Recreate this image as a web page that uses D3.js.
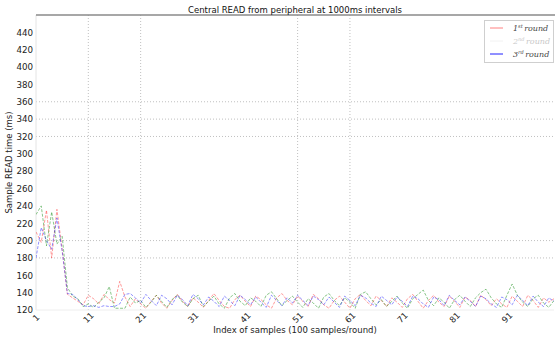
<!DOCTYPE html>
<html><head><meta charset="utf-8">
<script src="https://cdn.jsdelivr.net/npm/d3@7"></script>
<style>
html,body{margin:0;padding:0;background:#fff;}
svg{display:block;font-family:"DejaVu Sans",sans-serif;}
</style></head>
<body><svg id="chart" width="555" height="339"></svg>
<script>
const title = "Central READ from peripheral at 1000ms intervals";
const xLabel = "Index of samples (100 samples/round)";
const yLabel = "Sample READ time (ms)";
const xTicks = [1,11,21,31,41,51,61,71,81,91];
const yTicks = [120,140,160,180,200,220,240,260,280,300,320,340,360,380,400,420,440];
const xGrid = [11,21,51,61];
const yGrid = [180,200,320,340,360];
const seriesNames = ["1st","2nd","3rd"];

const round1 = [210,198,235,180,236,190,138,134,130,126,
  137,133,127,138,132,128,153,135,124,133,
  127,122,130,137,128,122,131,138,130,124,
  134,129,123,131,139,131,124,122,132,137,
  130,124,136,132,126,122,134,139,131,126,
  136,130,124,138,133,126,122,131,136,129,
  122,133,138,131,125,136,131,124,134,129,
  123,133,138,130,122,131,137,129,124,136,
  130,123,135,131,124,137,132,125,133,127,
  123,136,130,124,137,131,123,134,129,133];
const round2 = [230,240,194,233,196,205,146,136,133,124,
  127,123,129,134,147,122,122,122,135,128,
  131,123,129,137,130,123,132,137,129,124,
  133,137,124,130,136,127,122,134,139,130,
  125,134,130,124,137,141,133,125,131,136,
  129,123,133,128,122,135,139,131,125,134,
  129,122,138,141,133,126,132,124,130,136,
  128,122,133,138,143,131,125,134,129,122,
  132,137,130,124,134,140,144,134,127,123,
  137,150,137,129,124,133,137,128,123,131];
const round3 = [180,215,200,190,226,188,139,138,132,125,
  124,125,123,125,124,124,127,138,139,134,
  128,138,131,125,137,133,126,137,132,125,
  138,133,126,135,130,124,136,131,125,137,
  132,126,135,129,123,137,131,125,134,128,
  137,131,125,136,132,126,135,129,123,136,
  131,125,137,134,128,124,136,131,126,135,
  130,124,136,133,127,123,135,132,125,137,
  131,126,135,130,124,136,133,127,123,135,
  132,126,137,131,125,136,129,124,134,130];

const svg = d3.select("#chart");
const L = 36, R = 554, T = 15, B = 310;
const x = d3.scaleLinear().domain([1,100]).range([L,R]);
const y = d3.scaleLinear().domain([120,460]).range([B,T]);

// grid
svg.append("g").selectAll("line").data(xGrid).join("line")
  .attr("x1",d=>x(d)).attr("x2",d=>x(d)).attr("y1",T).attr("y2",B)
  .attr("stroke","#b0b0b0").attr("stroke-width",0.8).attr("stroke-dasharray","1,2");
svg.append("g").selectAll("line").data(yGrid).join("line")
  .attr("x1",L).attr("x2",R).attr("y1",d=>y(d)).attr("y2",d=>y(d))
  .attr("stroke","#b0b0b0").attr("stroke-width",0.8).attr("stroke-dasharray","1,2");

// spines
svg.append("line").attr("x1",L).attr("x2",L).attr("y1",T).attr("y2",B).attr("stroke","#e4e4e4").attr("stroke-width",1);
svg.append("line").attr("x1",L).attr("x2",R).attr("y1",B).attr("y2",B).attr("stroke","#eeeeee").attr("stroke-width",1);
svg.append("line").attr("x1",L).attr("x2",555).attr("y1",T).attr("y2",T).attr("stroke","#8a8a8a").attr("stroke-width",1.5);

// axes
const yAxis = d3.axisLeft(y).tickValues(yTicks).tickSize(0).tickPadding(3);
const gy = svg.append("g").attr("transform",`translate(${L},0)`).call(yAxis);
gy.select(".domain").remove();
gy.selectAll("text").attr("font-size","8.7px").attr("fill","#222").attr("font-family","DejaVu Sans");

const xAxis = d3.axisBottom(x).tickValues(xTicks).tickSize(0).tickPadding(0);
const gx = svg.append("g").attr("transform",`translate(0,${B})`).call(xAxis);
gx.select(".domain").remove();
gx.selectAll("text").attr("font-size","8.5px").attr("fill","#222").attr("font-family","DejaVu Sans")
  .attr("text-anchor","middle").attr("dy",null).attr("y",0)
  .attr("transform","translate(0,8) rotate(-45)").attr("dominant-baseline","middle");

// lines
const line = d3.line().x((d,i)=>x(i+1)).y(d=>y(d));
const series = [
  {data:round1,color:"#ff2020",op:0.5},
  {data:round2,color:"#108a10",op:0.55},
  {data:round3,color:"#2020ff",op:0.55}
];
const clip = svg.append("clipPath").attr("id","clip").append("rect").attr("x",L).attr("y",T).attr("width",R-L).attr("height",B-T+2);
svg.append("g").attr("clip-path","url(#clip)").selectAll("path").data(series).join("path")
  .attr("d",d=>line(d.data)).attr("fill","none").attr("stroke",d=>d.color)
  .attr("stroke-opacity",d=>d.op).attr("stroke-width",0.9).attr("stroke-dasharray","3,1.5");

// title & labels
svg.append("text").attr("x",(L+R)/2).attr("y",13).attr("text-anchor","middle")
  .attr("font-size","8.5px").attr("fill","#111").text(title);
svg.append("text").attr("x",(L+R)/2).attr("y",333).attr("text-anchor","middle")
  .attr("font-size","8.5px").attr("fill","#222").text(xLabel);
svg.append("text").attr("transform",`translate(12,${(T+B)/2}) rotate(-90)`).attr("text-anchor","middle")
  .attr("font-size","8.5px").attr("fill","#222").text(yLabel);

// legend
const lg = svg.append("g");
lg.append("rect").attr("x",484.5).attr("y",20.5).attr("width",69).attr("height",42)
  .attr("fill","#fff").attr("stroke","#cfcfcf").attr("stroke-width",1);
const legendItems = [
  {name:seriesNames[0],color:"#ff8080",text:"#444",y:28},
  {name:seriesNames[1],color:"#f2f2f2",text:"#c8c8c8",y:41},
  {name:seriesNames[2],color:"#2020ff",text:"#444",y:54}
];
legendItems.forEach(it=>{
  lg.append("line").attr("x1",490).attr("x2",503).attr("y1",it.y).attr("y2",it.y)
    .attr("stroke",it.color).attr("stroke-width",1);
  const t = lg.append("text").attr("x",513).attr("y",it.y+3)
    .attr("font-family","DejaVu Serif").attr("font-style","italic").attr("font-size","8px").attr("fill",it.text);
  t.append("tspan").text(it.name[0]);
  t.append("tspan").attr("font-size","5px").attr("dy",-3).text(it.name.slice(1));
  t.append("tspan").attr("dy",3).attr("dx",1.5).text("round");
});
</script></body></html>
